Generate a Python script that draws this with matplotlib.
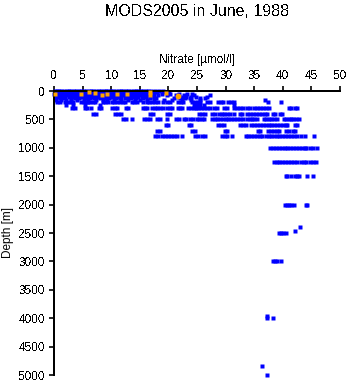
import matplotlib
matplotlib.use("Agg")
import matplotlib.pyplot as plt

plt.rcParams["font.family"] = ["Liberation Sans", "DejaVu Sans"]
plt.rcParams["text.antialiased"] = False
plt.rcParams["lines.antialiased"] = False
plt.rcParams["patch.antialiased"] = False

TITLE = "MODS2005 in June, 1988"
XTICKS = [0, 5, 10, 15, 20, 25, 30, 35, 40, 45, 50]
YTICKS = [0, 500, 1000, 1500, 2000, 2500, 3000, 3500, 4000, 4500, 5000]

# nitrate observations per standard depth (m)
NO3_0 = [0.1, 0.5, 0.9, 1.3, 1.8, 2.2, 2.6, 3.0, 3.5, 3.9, 4.3, 4.8, 5.2, 5.6, 6.1,
         6.5, 6.9, 7.4, 7.8, 8.2, 8.7, 9.1, 9.5, 10.0, 10.4, 10.8, 11.3, 11.7, 12.1,
         12.6, 13.0, 13.4, 13.9, 14.3, 14.7, 15.2, 15.6, 16.0, 16.5, 17.0, 17.6,
         18.3, 19.1]
NO3_20 = [0.2, 0.6, 1.1, 1.5, 1.9, 2.4, 2.8, 3.3, 3.7, 4.1, 4.6, 5.0, 5.4, 5.9, 6.3,
          6.8, 7.2, 7.6, 8.1, 8.5, 9.0, 9.4, 9.8, 10.3, 10.7, 11.1, 11.6, 12.0, 12.5,
          12.9, 13.3, 13.8, 14.2, 14.6, 15.1, 15.5, 16.0, 16.4, 16.9, 17.4, 18.0,
          19.0, 20.1]
NO3_50 = [0.0, 0.4, 0.8, 1.3, 1.7, 2.1, 2.6, 3.0, 3.4, 3.9, 4.3, 4.7, 5.2, 5.6, 6.0,
          6.5, 6.9, 7.3, 7.8, 8.2, 8.6, 9.1, 9.5, 9.9, 10.4, 10.8, 11.2, 11.7, 12.1,
          12.5, 13.0, 13.4, 13.8, 14.3, 14.7, 15.1, 15.6, 16.0, 16.5, 17.0, 17.5,
          18.8, 20.3, 21.9, 23.2, 24.1]
NO3_75 = [0.1, 0.6, 1.0, 1.6, 2.0, 2.5, 3.1, 3.5, 4.0, 4.5, 5.0, 5.4, 6.0, 6.4, 6.9,
          7.5, 7.9, 8.4, 8.9, 9.3, 9.9, 10.3, 10.8, 11.4, 11.8, 12.3, 12.9, 13.3,
          13.8, 14.4, 14.8, 15.3, 15.9, 16.4, 17.0, 18.2, 19.7, 21.3, 22.8, 24.4,
          27.3]
NO3_100 = [0.3, 0.8, 1.4, 2.0, 2.6, 3.3, 3.9, 4.6, 5.1, 5.9, 6.4, 7.2, 7.7, 8.5, 9.1,
           9.8, 10.4, 11.2, 11.8, 12.5, 13.1, 13.9, 14.6, 15.3, 16.0, 16.8, 17.5,
           21.6, 22.4, 23.1, 24.0, 24.8, 26.7]
NO3_125 = [0.2, 1.0, 1.7, 2.9, 3.6, 4.4, 5.5, 6.3, 7.0, 8.1, 8.9, 9.6, 10.9, 11.6,
           12.4, 13.5, 14.4, 15.6, 16.7, 17.9, 20.9, 22.0, 22.9, 23.7, 25.5, 26.4]
NO3_150 = [0.4, 1.2, 2.1, 3.0, 4.1, 5.3, 6.0, 7.3, 8.6, 9.3, 10.5, 11.8, 12.9, 14.2,
           15.1, 16.3, 17.4, 19.2, 20.6, 22.3, 24.0, 25.6, 36.9]
NO3_200 = [0.5, 1.0, 1.9, 2.5, 2.9, 3.4, 4.8, 5.2, 5.7, 6.0, 6.3, 6.8, 7.2, 8.6, 9.0,
           9.5, 10.1, 10.5, 11.0, 11.6, 12.0, 12.4, 13.6, 14.0, 14.5, 15.6, 16.2,
           16.6, 17.1, 17.6, 18.2, 19.1, 19.7, 20.3, 21.7, 22.2, 22.6, 24.1, 24.6,
           25.1, 25.6, 26.7, 27.3, 28.7, 29.2, 29.6, 30.5, 31.0, 31.4, 37.4, 39.6]
NO3_250 = [2.1, 3.3, 5.5, 8.0, 24.4, 25.0, 25.6, 26.2, 31.4]
NO3_300 = [3.2, 3.6, 5.5, 5.8, 6.4, 7.9, 8.3, 10.2, 10.6, 11.0, 12.5, 13.0, 15.5,
           15.9, 16.3, 17.1, 17.6, 18.0, 18.6, 19.1, 19.7, 20.2, 20.6, 21.7, 22.1,
           22.4, 23.5, 24.0, 24.4, 24.8, 25.2, 25.7, 26.2, 26.7, 27.3, 27.9, 28.5,
           29.8, 30.3, 31.5, 32.0, 32.6, 33.1, 33.7, 34.3, 34.9, 35.5, 36.1, 36.6,
           37.1, 37.6, 41.0, 41.4, 42.2, 42.5]
NO3_400 = [6.9, 7.4, 10.7, 11.2, 11.7, 16.8, 17.3, 19.7, 20.2, 25.4, 25.9, 26.4,
           27.7, 28.2, 28.8, 29.3, 29.8, 30.3, 30.8, 31.4, 32.6, 32.9, 33.8, 34.3,
           34.8, 35.4, 35.9, 36.4, 36.9, 37.3, 38.3, 38.6, 39.5, 39.8]
NO3_500 = [12.1, 12.6, 13.7, 15.7, 16.2, 16.8, 18.0, 18.5, 19.8, 21.3, 21.8, 22.7,
           23.1, 23.8, 24.3, 25.0, 25.3, 25.8, 26.3, 27.7, 28.1, 28.5, 29.0, 29.5,
           30.0, 30.5, 31.0, 31.5, 32.0, 32.5, 33.0, 33.8, 34.3, 34.6, 35.0, 35.5,
           36.7, 37.1, 37.5, 38.0, 38.5, 39.0, 40.2, 40.6, 41.0, 41.4, 41.8, 42.3,
           42.8]
NO3_600 = [19.6, 20.0, 23.6, 24.0, 28.7, 29.2, 29.8, 32.5, 33.0, 33.5, 34.5, 35.0,
           35.5, 36.0, 36.5, 37.0, 37.5, 38.0, 38.5, 39.0, 39.5, 40.0, 40.5, 40.8,
           42.1, 42.5]
NO3_700 = [18.0, 18.5, 24.2, 24.6, 29.9, 30.2, 35.6, 36.0, 37.4, 37.9, 38.4, 38.9,
           39.3, 40.6, 41.0, 41.7, 42.1]
NO3_800 = [17.7, 18.2, 18.8, 19.4, 19.9, 20.5, 21.0, 21.5, 22.4, 24.7, 25.2, 25.9,
           26.4, 29.4, 29.9, 30.3, 31.1, 33.5, 34.0, 34.5, 35.0, 35.5, 36.0, 36.4,
           37.0, 37.5, 37.9, 38.4, 38.9, 39.4, 39.9, 40.4, 40.9, 41.4, 41.9, 42.4,
           43.1, 43.8, 45.5]
NO3_1000 = [37.8, 38.3, 38.8, 39.3, 39.8, 40.3, 40.8, 41.3, 41.8, 42.3, 42.8, 43.3,
            43.8, 44.1, 44.7, 45.2, 45.9]
NO3_1250 = [38.4, 38.9, 39.4, 39.9, 40.4, 40.9, 41.4, 41.9, 42.4, 43.2, 43.7, 44.0,
            44.8, 45.3, 45.8]
NO3_1500 = [40.5, 40.8, 41.4, 42.2, 42.5, 42.8, 44.2, 45.3]
NO3_2000 = [40.3, 40.7, 41.1, 41.5, 41.9, 44.0, 44.3]

LEVELS = [0, 20, 50, 75, 100, 125, 150, 200, 250, 300, 400, 500, 600, 700, 800,
          1000, 1250, 1500, 2000]
LEVEL_NO3 = [NO3_0, NO3_20, NO3_50, NO3_75, NO3_100, NO3_125, NO3_150, NO3_200,
             NO3_250, NO3_300, NO3_400, NO3_500, NO3_600, NO3_700, NO3_800,
             NO3_1000, NO3_1250, NO3_1500, NO3_2000]

# sparse deep samples
DEEP_DEPTH = [2400, 2470, 2500, 2500, 2500, 2500, 3000, 3000, 3000, 3000,
              3970, 4000, 4000, 4850, 5000]
DEEP_NO3 = [43.0, 42.1, 39.3, 39.7, 40.1, 40.5, 38.3, 38.7, 39.0, 39.6,
            37.3, 37.3, 38.2, 36.4, 37.3]

# highlighted station
HI_DEPTH = [58, 58, 18, 30, 70, 45, 50, 50, 12, 70, 41]
HI_NO3 = [0.2, 4.8, 6.2, 7.2, 8.4, 9.2, 11.0, 12.7, 16.8, 16.8, 19.6]
HI_BIG_DEPTH = [83]
HI_BIG_NO3 = [21.6]

fig = plt.figure(figsize=(3.48, 3.84), dpi=100)
ax = fig.add_axes([54 / 348, 1 - 375 / 384, 286 / 348, 284 / 384])

xs, ys = [], []
for d, vals in zip(LEVELS, LEVEL_NO3):
    xs.extend(vals)
    ys.extend([d] * len(vals))
xs.extend(DEEP_NO3)
ys.extend(DEEP_DEPTH)

ax.plot(xs, ys, ls="none", marker="s", ms=2.3, mfc="#0000ff", mec="none",
        clip_on=False, zorder=2)
ax.plot(HI_NO3, HI_DEPTH, ls="none", marker="s", ms=2.9, mfc="#ffa500",
        mec="none", clip_on=False, zorder=3)
ax.plot(HI_BIG_NO3, HI_BIG_DEPTH, ls="none", marker="o", ms=4.2, mfc="#ffa500",
        mec="none", clip_on=False, zorder=3)

ax.set_xlim(0, 50)
ax.set_ylim(5000, 0)
ax.set_xticks(XTICKS)
ax.set_yticks(YTICKS)
ax.xaxis.tick_top()
ax.xaxis.set_label_position("top")
for side in ("right", "bottom"):
    ax.spines[side].set_visible(False)
for side in ("left", "top"):
    ax.spines[side].set_linewidth(1.2)
ax.tick_params(axis="both", direction="out", length=3.5, width=1.2,
               labelsize=8.5, pad=3)
ax.set_xlabel("Nitrate [µmol/l]", fontsize=8.5, labelpad=5)

# rotated text renders poorly without antialiasing
fig.text(8 / 348, 1 - 233 / 384, "Depth [m]", rotation=90, fontsize=8.5,
         ha="center", va="center", antialiased=True)
fig.text(197 / 348, 1 - 16 / 384, TITLE, fontsize=11.5, ha="center",
         va="baseline")

fig.savefig("out.png", dpi=100)
